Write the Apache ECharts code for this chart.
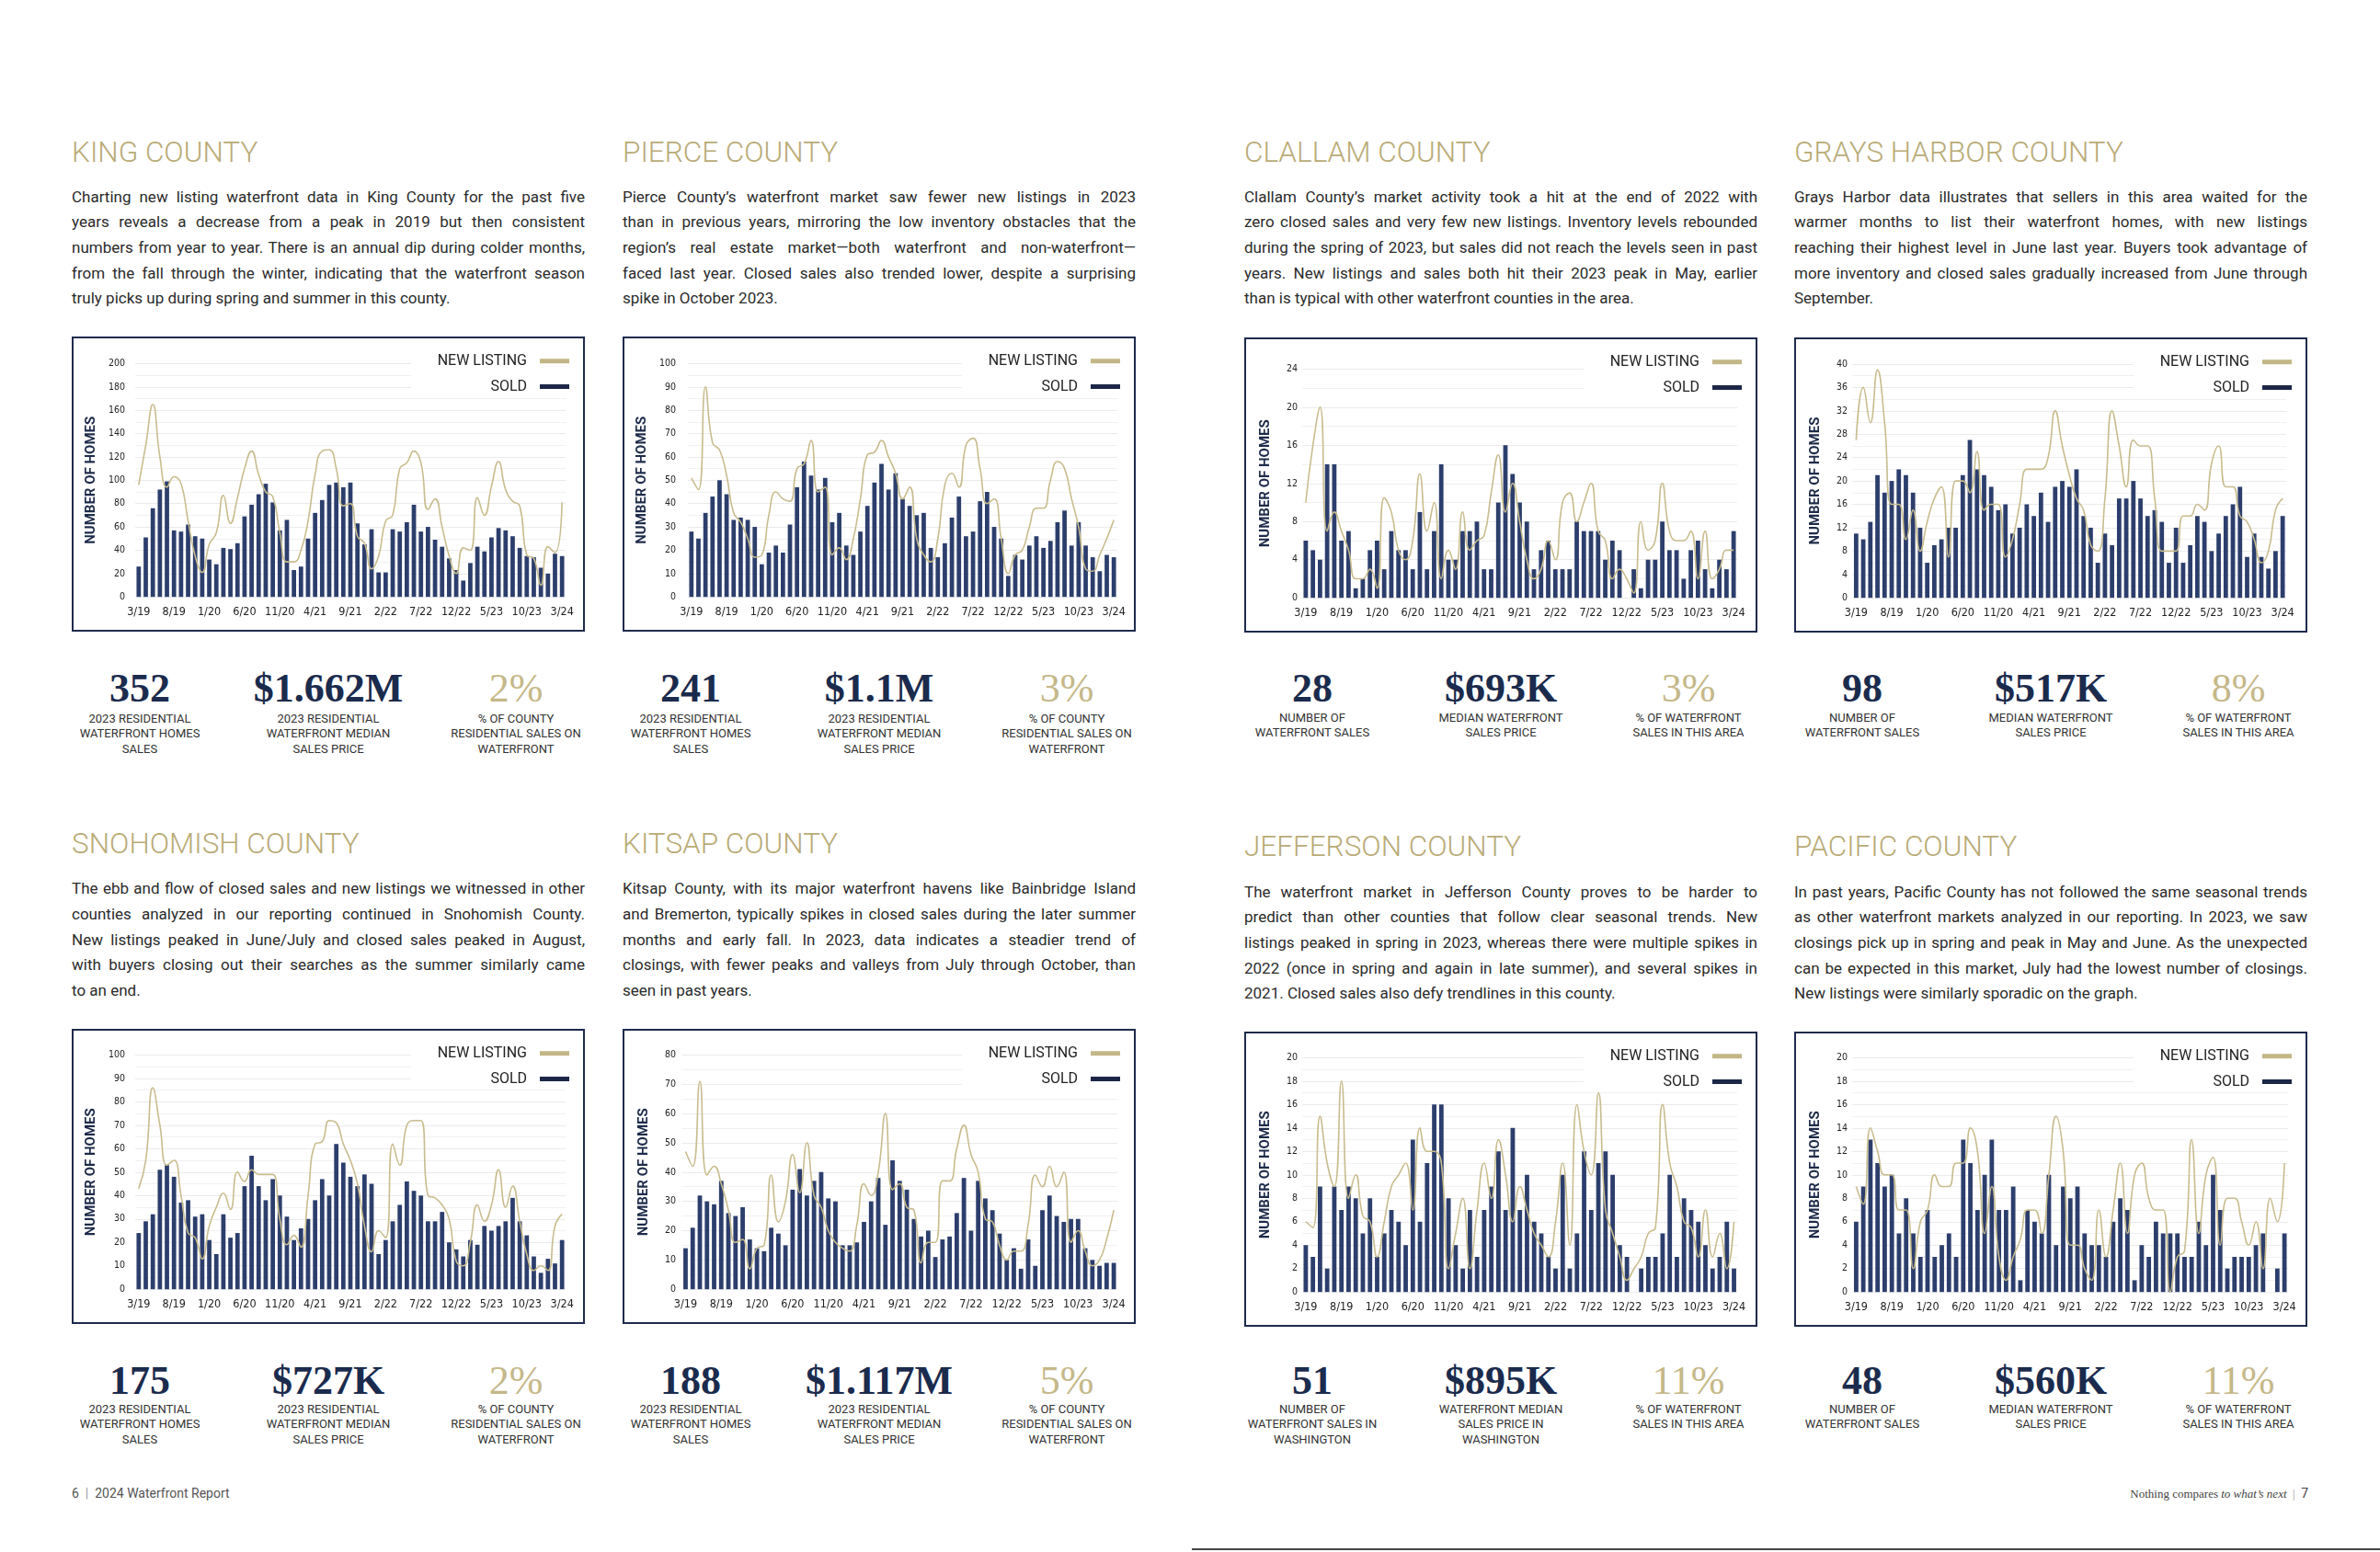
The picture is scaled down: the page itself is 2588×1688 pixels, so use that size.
<!DOCTYPE html>
<html><head><meta charset="utf-8">
<script src="https://cdn.jsdelivr.net/npm/echarts/dist/echarts.min.js"></script>
<style>
html,body{margin:0;padding:0;background:#fff;}
#page{position:relative;width:2588px;height:1688px;overflow:hidden;background:#fff;font-family:Roboto,'Noto Sans',sans-serif;}
.h{position:absolute;font-size:31.5px;font-weight:300;color:#b9ab77;line-height:38px;white-space:nowrap;}
.p{position:absolute;width:558px;font-size:17px;color:#2b2b2b;}
.ln{line-height:27.65px;text-align:justify;text-align-last:justify;}
.ln.last{text-align:left;text-align-last:left;}
.box{position:absolute;width:558px;height:321px;}
.frame{position:absolute;width:558px;height:321px;box-sizing:border-box;border:2.5px solid #1f2b4d;pointer-events:none;}
.num{position:absolute;width:300px;text-align:center;font-family:'Liberation Serif','DejaVu Serif',serif;font-weight:700;font-size:44px;color:#1b2b4d;line-height:50px;white-space:nowrap;}
.num.pct{font-weight:400;color:#c5b889;}
.lab{position:absolute;width:300px;text-align:center;font-size:13px;line-height:16.5px;color:#333;white-space:nowrap;}
.foot{position:absolute;font-size:14px;color:#555;white-space:nowrap;line-height:20px;}
</style></head>
<body><div id="page"></div>
<script>
const months = ['3/19','4/19','5/19','6/19','7/19','8/19','9/19','10/19','11/19','12/19',
'1/20','2/20','3/20','4/20','5/20','6/20','7/20','8/20','9/20','10/20','11/20','12/20',
'1/21','2/21','3/21','4/21','5/21','6/21','7/21','8/21','9/21','10/21','11/21','12/21',
'1/22','2/22','3/22','4/22','5/22','6/22','7/22','8/22','9/22','10/22','11/22','12/22',
'1/23','2/23','3/23','4/23','5/23','6/23','7/23','8/23','9/23','10/23','11/23','12/23',
'1/24','2/24','3/24'];

const kingSold = [26,51,76,92,99,57,56,62,52,50,32,28,42,41,46,69,79,88,97,81,57,66,23,26,50,72,83,96,98,94,98,63,45,58,21,21,58,56,64,79,56,60,49,43,33,23,14,29,43,39,51,59,57,52,42,35,34,25,20,37,35];
const kingListing = [96,130,165,120,94,103,97,65,35,21,45,55,87,63,85,110,125,105,90,86,55,30,30,40,65,105,125,126,110,78,80,52,46,24,35,65,70,110,115,125,115,75,84,60,35,20,42,40,85,70,95,116,92,82,78,36,33,10,43,38,81];

const pierceSold = [28,25,36,43,50,44,33,34,33,30,14,19,22,19,31,47,58,52,46,51,32,36,22,18,28,39,49,57,46,53,42,39,35,36,21,17,23,34,43,26,28,41,45,30,25,9,18,16,22,26,21,24,32,37,22,32,22,17,11,18,17];
const pierceListing = [51,46,90,66,63,52,36,32,25,17,18,35,45,42,41,55,57,67,45,47,18,21,16,25,42,61,62,67,60,53,42,47,25,18,15,25,48,53,47,65,68,55,40,42,25,10,18,20,30,38,38,50,58,55,42,30,12,11,18,25,33];

const clallamSold = [6,5,4,14,14,6,7,1,2,5,6,3,7,5,5,3,9,3,7,14,4,4,7,7,8,3,3,10,16,13,10,8,3,5,6,3,3,3,8,7,7,7,4,6,5,0,3,1,4,4,8,5,5,2,5,6,3,1,4,3,7];
const clallamListing = [10,16,20,7,9,7,5,2,2,3,1,10.5,9,5,4,6,13,7,10,2,5,3,9,5,6,6.5,11,15,9,12,8,4,2,3,6,4,10,11,8,10,12,7,6,2,3,2,0.5,8,5,6,12,7,6,6,7,2,7,2,3,5,5];

const graysSold = [11,10,13,21,18,20,22,21,18,12,6,9,10,12,12,21,27,22,21,19,15,16,11,12,16,14,18,13,19,20,19,22,14,12,6,11,9,17,17,20,17,14,15,13,6,12,6,9,14,13,8,11,14,16,19,7,11,7,5,8,14];
const graysListing = [27,36,30,39,30,16,16,10,15,8,13,17,19,7,20,20,18,25,15,16,16,7,10,16,22,22,22,24,32,26,21,17,15,9,8,17,32,26,19,27,26,26,17,8,8,8,14,14,16,15,23,26,19,19,14,13,10,6,8,15,17];

const snohomishSold = [24,29,32,51,53,48,37,38,31,32,21,15,32,22,24,44,57,44,38,47,40,31,21,26,30,38,47,40,62,54,48,44,49,45,15,21,29,36,46,42,40,29,29,33,20,17,14,21,19,27,25,27,29,39,29,23,14,7,13,11,21];
const snohomishListing = [43,55,86,70,53,55,40,24,22,13,27,35,41,34,50,46,51,49,49,49,30,19,23,18,40,62,63,72,71,62,55,45,27,16,25,22,62,53,70,72,72,40,39,36,30,12,10,20,36,29,36,51,35,44,29,15,8,10,8,27,32];

const kitsapSold = [14,21,32,30,29,37,26,25,28,17,14,13,21,19,15,34,41,32,37,40,31,30,15,15,16,23,30,38,22,44,37,34,24,18,20,11,17,18,26,38,20,37,31,27,19,10,14,7,17,8,27,32,25,23,24,24,14,10,8,9,9];
const kitsapListing = [47,42,71,39,42,36,27,16,17,7,14,15,39,23,30,46,33,50,32,28,20,16,14,13,22,36,32,40,60,34,36,28,27,9,16,16,37,37,48,56,46,40,24,23,15,10,13,13,22,39,35,42,35,40,16,20,13,8,10,17,27];

const jeffersonSold = [4,3,9,2,9,7,9,8,5,8,3,5,7,6,4,13,6,11,16,16,8,4,2,7,3,7,9,12,7,14,7,10,6,5,3,2,10,2,5,12,7,11,12,10,4,3,0,2,3,3,5,10,3,8,7,6,4,2,3,6,2];
const jeffersonListing = [6,5.5,15,11,9,18,8,10,6.5,6,3,6,9,10,11,7,14,12,12,11,2,5,8,2,7,11,8,13,10,6,9,7,5,4,3,6,11,4,16,12,10,17,7,5,3,1,2,3,5,5.5,16,11,9,6,5.5,3,7,3,5,2,6];

const pacificSold = [6,9,13,11,9,10,5,8,5,3,7,3,4,5,3,13,11,7,10,13,7,7,9,1,7,6,5,10,4,9,8,9,5,4,4,3,6,8,7,1,4,3,6,5,5,5,3,3,6,4,10,7,2,3,3,3,4,5,0,2,5];
const pacificListing = [9,7.5,14,12,10,10,7,7,2,6,7,10,9,9,11,11,14,12,5,9,3,1,3,4.5,7,7,5,10,15,12,4,4,2,1,7,3,7,11,5,10,11,8,7,7,0,3,3.5,13,5,10,11.5,4,8,8,6,4,6,2,8,6,11];

const labCounty = [['2023 RESIDENTIAL','WATERFRONT HOMES','SALES'],['2023 RESIDENTIAL','WATERFRONT MEDIAN','SALES PRICE'],['% OF COUNTY','RESIDENTIAL SALES ON','WATERFRONT']];
const labArea = [['NUMBER OF','WATERFRONT SALES'],['MEDIAN WATERFRONT','SALES PRICE'],['% OF WATERFRONT','SALES IN THIS AREA']];
const labWA = [['NUMBER OF','WATERFRONT SALES IN','WASHINGTON'],['WATERFRONT MEDIAN','SALES PRICE IN','WASHINGTON'],['% OF WATERFRONT','SALES IN THIS AREA']];

const kingStats = ['352','$1.662M','2%'];
const pierceStats = ['241','$1.1M','3%'];
const clallamStats = ['28','$693K','3%'];
const graysStats = ['98','$517K','8%'];
const snohomishStats = ['175','$727K','2%'];
const kitsapStats = ['188','$1.117M','5%'];
const jeffersonStats = ['51','$895K','11%'];
const pacificStats = ['48','$560K','11%'];

const kingText = ['Charting new listing waterfront data in King County for the past five','years reveals a decrease from a peak in 2019 but then consistent','numbers from year to year. There is an annual dip during colder months,','from the fall through the winter, indicating that the waterfront season','truly picks up during spring and summer in this county.'];
const pierceText = ['Pierce County\u2019s waterfront market saw fewer new listings in 2023','than in previous years, mirroring the low inventory obstacles that the','region\u2019s real estate market\u2014both waterfront and non-waterfront\u2014','faced last year. Closed sales also trended lower, despite a surprising','spike in October 2023.'];
const clallamText = ['Clallam County\u2019s market activity took a hit at the end of 2022 with','zero closed sales and very few new listings. Inventory levels rebounded','during the spring of 2023, but sales did not reach the levels seen in past','years. New listings and sales both hit their 2023 peak in May, earlier','than is typical with other waterfront counties in the area.'];
const graysText = ['Grays Harbor data illustrates that sellers in this area waited for the','warmer months to list their waterfront homes, with new listings','reaching their highest level in June last year. Buyers took advantage of','more inventory and closed sales gradually increased from June through','September.'];
const snohomishText = ['The ebb and flow of closed sales and new listings we witnessed in other','counties analyzed in our reporting continued in Snohomish County.','New listings peaked in June/July and closed sales peaked in August,','with buyers closing out their searches as the summer similarly came','to an end.'];
const kitsapText = ['Kitsap County, with its major waterfront havens like Bainbridge Island','and Bremerton, typically spikes in closed sales during the later summer','months and early fall. In 2023, data indicates a steadier trend of','closings, with fewer peaks and valleys from July through October, than','seen in past years.'];
const jeffersonText = ['The waterfront market in Jefferson County proves to be harder to','predict than other counties that follow clear seasonal trends. New','listings peaked in spring in 2023, whereas there were multiple spikes in','2022 (once in spring and again in late summer), and several spikes in','2021. Closed sales also defy trendlines in this county.'];
const pacificText = ['In past years, Pacific County has not followed the same seasonal trends','as other waterfront markets analyzed in our reporting. In 2023, we saw','closings pick up in spring and peak in May and June. As the unexpected','can be expected in this market, July had the lowest number of closings.','New listings were similarly sporadic on the graph.'];

const counties = [
 {name:'KING COUNTY', text:kingText, sold:kingSold, listing:kingListing, yMax:200, yStep:20, stats:kingStats, labs:labCounty},
 {name:'PIERCE COUNTY', text:pierceText, sold:pierceSold, listing:pierceListing, yMax:100, yStep:10, stats:pierceStats, labs:labCounty},
 {name:'CLALLAM COUNTY', text:clallamText, sold:clallamSold, listing:clallamListing, yMax:24, yStep:4, stats:clallamStats, labs:labArea},
 {name:'GRAYS HARBOR COUNTY', text:graysText, sold:graysSold, listing:graysListing, yMax:40, yStep:4, stats:graysStats, labs:labArea},
 {name:'SNOHOMISH COUNTY', text:snohomishText, sold:snohomishSold, listing:snohomishListing, yMax:100, yStep:10, stats:snohomishStats, labs:labCounty},
 {name:'KITSAP COUNTY', text:kitsapText, sold:kitsapSold, listing:kitsapListing, yMax:80, yStep:10, stats:kitsapStats, labs:labCounty},
 {name:'JEFFERSON COUNTY', text:jeffersonText, sold:jeffersonSold, listing:jeffersonListing, yMax:20, yStep:2, stats:jeffersonStats, labs:labWA},
 {name:'PACIFIC COUNTY', text:pacificText, sold:pacificSold, listing:pacificListing, yMax:20, yStep:2, stats:pacificStats, labs:labArea}
];

// layout (positions only)
const layout = [
 {x:78,   hy:147, py:200.8, by:366,  ny:749,  ly:782,  g:{l:69, r:21, t:29.4}},
 {x:677,  hy:147, py:200.8, by:366,  ny:749,  ly:782,  g:{l:71, r:20, t:29.4}},
 {x:1353, hy:147, py:200.8, by:367,  ny:749,  ly:781,  g:{l:63, r:22, t:34.4}},
 {x:1951, hy:147, py:200.8, by:367,  ny:749,  ly:781,  g:{l:63.5, r:23, t:29}},
 {x:78,   hy:899, py:953.4, by:1119, ny:1502, ly:1533, g:{l:69, r:21, t:28.4}},
 {x:677,  hy:899, py:953.4, by:1119, ny:1502, ly:1533, g:{l:64.6, r:20, t:28.4}},
 {x:1353, hy:902, py:956.7, by:1122, ny:1502, ly:1533, g:{l:63, r:21.6, t:28.4}},
 {x:1951, hy:902, py:956.7, by:1122, ny:1502, ly:1533, g:{l:63.5, r:21, t:28.4}}
];
const colOff = [74, 279, 483];

const page = document.getElementById('page');
function el(cls, style, html){const d=document.createElement('div');d.className=cls;Object.assign(d.style,style);if(html!==undefined)d.innerHTML=html;page.appendChild(d);return d;}

const numFont = "'Liberation Sans Narrow','DejaVu Sans Condensed','Roboto Condensed',Roboto,sans-serif";

counties.forEach((c,i)=>{
  const L = layout[i];
  el('h',{left:L.x+'px',top:L.hy+'px'},c.name);
  const p = el('p',{left:L.x+'px',top:L.py+'px'});
  c.text.forEach((t,k)=>{const d=document.createElement('div');d.className='ln'+(k===c.text.length-1?' last':'');d.textContent=t;p.appendChild(d);});
  const box = el('box',{left:L.x+'px',top:L.by+'px'});
  el('frame',{left:L.x+'px',top:L.by+'px'});
  c.stats.forEach((s,k)=>{
    const cx = L.x + colOff[k];
    el('num'+(k===2?' pct':''),{left:(cx-150)+'px',top:(L.ny-25)+'px'},s);
    el('lab',{left:(cx-150)+'px',top:(L.ly-8.25)+'px'},c.labs[k].join('<br>'));
  });
  const ch = echarts.init(box,null,{renderer:'canvas'});
  const g = L.g;
  ch.setOption({
    animation:false,
    grid:{left:g.l,right:g.r,top:g.t,bottom:37.8},
    graphic:[{type:'rect',left:369,top:18,shape:{width:176,height:46},style:{fill:'#fff'},z:1,silent:true}],
    legend:[
      {data:[{name:'NEW LISTING',itemStyle:{color:'#c3b787'}}],right:17,top:18.7,padding:0,align:'right',icon:'rect',itemWidth:32,itemHeight:5,
       textStyle:{fontSize:16,lineHeight:16,color:'#222',fontFamily:'Roboto',padding:[0,9,0,0]},selectedMode:false,z:5},
      {data:[{name:'SOLD',itemStyle:{color:'#1c2747'}}],right:17,top:46.5,padding:0,align:'right',icon:'rect',itemWidth:32,itemHeight:5,
       textStyle:{fontSize:16,lineHeight:16,color:'#222',fontFamily:'Roboto',padding:[0,9,0,0]},selectedMode:false,z:5}
    ],
    xAxis:{type:'category',data:months,axisLine:{show:false},axisTick:{show:false},
      axisLabel:{interval:4,color:'#222',fontSize:12.5,fontFamily:numFont,margin:10}},
    yAxis:{type:'value',min:0,max:c.yMax,interval:c.yStep,
      name:'NUMBER OF HOMES',nameLocation:'middle',nameGap:g.l-31,
      nameTextStyle:{fontSize:15,fontWeight:'bold',color:'#1e2b4a',fontFamily:'Roboto'},
      axisLine:{show:false},axisTick:{show:false},
      axisLabel:{margin:g.l-58,fontSize:10.5,color:'#222',fontFamily:numFont},
      splitLine:{lineStyle:{color:'#ebebeb',width:1}},
      minorTick:{show:false,splitNumber:2},
      minorSplitLine:{show:true,lineStyle:{color:'#f1f1f1',width:1}}},
    series:[
      {name:'SOLD',type:'bar',data:c.sold,barWidth:'62%',itemStyle:{color:'#2c3e6c'},z:2},
      {name:'NEW LISTING',type:'line',data:c.listing,smooth:0.5,showSymbol:false,symbol:'none',
       lineStyle:{color:'#c8bc8e',width:1.6},itemStyle:{color:'#c8bc8e'},z:3}
    ]
  });
});

// footer
el('foot',{left:'78px',top:'1614px'},'6&nbsp;&nbsp;<span style="color:#999">|</span>&nbsp;&nbsp;2024 Waterfront Report');
el('foot',{right:'78px',top:'1614px',fontFamily:"'Liberation Serif',serif",fontSize:'13px',color:'#444'},'Nothing compares <i>to what\u2019s next</i>&nbsp;&nbsp;<span style="color:#999">|</span>&nbsp;&nbsp;<span style="font-family:Roboto;font-size:14px">7</span>');
el('',{position:'absolute',left:'1296px',top:'1684px',width:'1292px',height:'2px',background:'#444'});

// fit justified lines to one line each
document.querySelectorAll('.ln').forEach(d=>{
  let ls=0;
  while(d.getBoundingClientRect().height>40 && ls>-2){ls-=0.05;d.style.letterSpacing=ls+'px';}
});
</script>
</body></html>
